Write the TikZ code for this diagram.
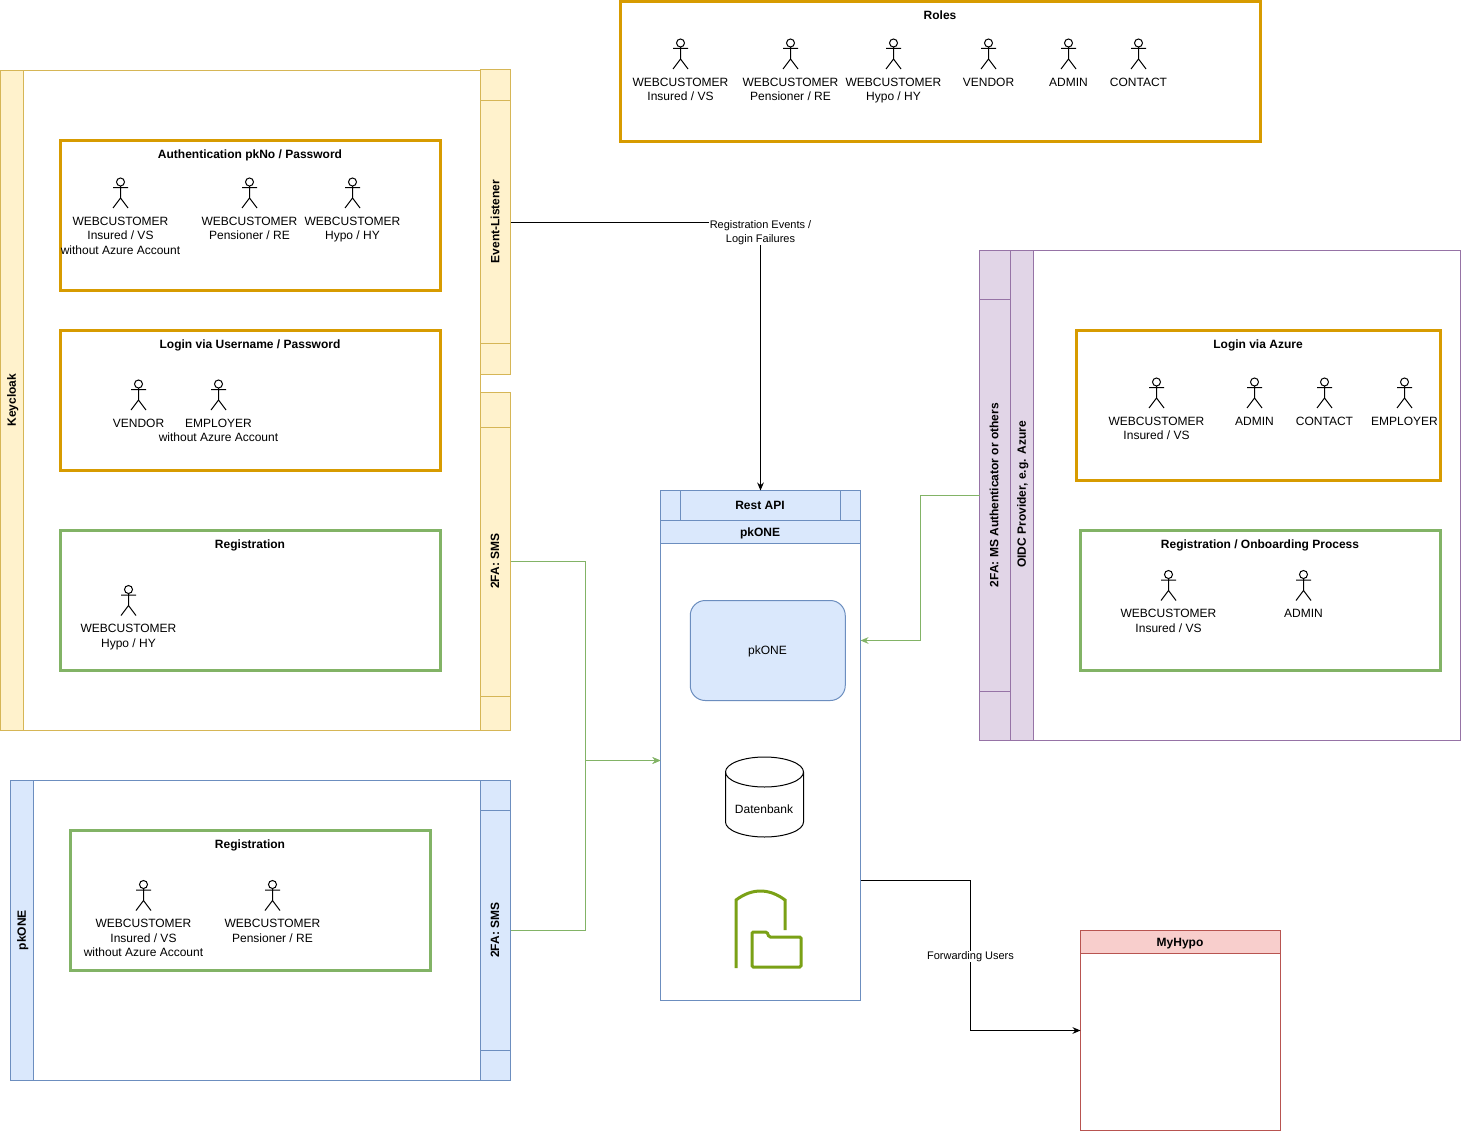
\documentclass[tikz,border=0pt]{standalone}
\usepackage{fontspec}
\setmainfont{Liberation Sans}
\usetikzlibrary{arrows.meta}
\definecolor{yfill}{HTML}{FFF2CC}\definecolor{yline}{HTML}{D6B656}
\definecolor{bfill}{HTML}{DAE8FC}\definecolor{bline}{HTML}{6C8EBF}
\definecolor{pfill}{HTML}{E1D5E7}\definecolor{pline}{HTML}{9673A6}
\definecolor{rfill}{HTML}{F8CECC}\definecolor{rline}{HTML}{B85450}
\definecolor{orng}{HTML}{D79B00}\definecolor{grn}{HTML}{82B366}
\definecolor{icon}{HTML}{7AA116}
\tikzset{
  x=0.75pt,y=-0.75pt,
  every node/.style={inner sep=0pt,outer sep=0pt,font=\fontsize{9}{10.9}\selectfont},
  yel/.style={draw=yline,fill=yfill,line width=0.75pt},
  blu/.style={draw=bline,fill=bfill,line width=0.75pt},
  pur/.style={draw=pline,fill=pfill,line width=0.75pt},
  red/.style={draw=rline,fill=rfill,line width=0.75pt},
  ybody/.style={draw=yline,fill=white,line width=0.75pt},
  bbody/.style={draw=bline,fill=white,line width=0.75pt},
  pbody/.style={draw=pline,fill=white,line width=0.75pt},
  rbody/.style={draw=rline,fill=white,line width=0.75pt},
  ogroup/.style={draw=orng,line width=2.25pt},
  ggroup/.style={draw=grn,line width=2.25pt},
  ttl/.style={font=\fontsize{9}{10.9}\selectfont\bfseries,anchor=base},
  vttl/.style={font=\fontsize{9}{10.9}\selectfont\bfseries,rotate=90},
  actorlabel/.style={anchor=north,align=center},
  stick/.style={draw=black,line width=0.75pt},
  conblack/.style={draw=black,line width=0.75pt,-{Stealth[length=6pt,width=5pt]}},
  congreen/.style={draw=grn,line width=0.75pt,-{Stealth[length=6pt,width=5pt]}},
  edgelabel/.style={fill=white,align=center,font=\fontsize{8.25}{10.5}\selectfont,inner sep=0.5pt},
}
% [style]{name}{x1}{y1}{x2}{y2}
\newcommand\bx[6]{\node[#1,anchor=center,minimum width={(#5-#3)*0.75pt},minimum height={(#6-#4)*0.75pt}] (#2) at ({(#3+#5)/2},{(#4+#6)/2}) {};}
% {name}{cx}{top}{text}
\newcommand\actr[4]{%
  \node[minimum width=11.25pt,minimum height=22.5pt] (#1) at ({#2+0.5},{#3+15}) {};
  \begin{scope}[shift={(#1)}]
    \draw[stick,fill=white] (0,-11) circle (4);
    \draw[stick] (0,-7) -- (0,5) (-7.5,-5.5) -- (7.5,-5.5) (-7.5,15) -- (0,5) -- (7.5,15);
  \end{scope}
  \node[actorlabel] (#1-l) at ({#2+0.5},{#3+38}) {\rule{0pt}{7pt}#4};
}
\begin{document}
\begin{tikzpicture}
\useasboundingbox (0,0) rectangle (1461,1131);

% Keycloak
\bx{ybody}{kc}{0.5}{70.5}{480.5}{730.5}
\bx{yel}{kchead}{0.5}{70.5}{23.5}{730.5}
\node[vttl] (kct) at (12.8,400.2) {Keycloak};
\bx{yel}{ev}{480.5}{69.5}{510.5}{374.5}
\draw[yel] (480.5,100.5) -- (510.5,100.5) (480.5,343.5) -- (510.5,343.5);
\node[vttl] (evt) at (495,221.5) {Event-Listener};
\bx{yel}{sms}{480.5}{392.5}{510.5}{730.5}
\draw[yel] (480.5,427.5) -- (510.5,427.5) (480.5,696.5) -- (510.5,696.5);
\node[vttl] (smst) at (495,561) {2FA: SMS};

% pkONE lane
\bx{bbody}{pk}{10.5}{780.5}{480.5}{1080.5}
\bx{blu}{pkhead}{10.5}{780.5}{33.5}{1080.5}
\node[vttl] (pkt) at (22.8,930) {pkONE};
\bx{blu}{smsb}{480.5}{780.5}{510.5}{1080.5}
\draw[blu] (480.5,810.5) -- (510.5,810.5) (480.5,1050.5) -- (510.5,1050.5);
\node[vttl] (smsbt) at (495,930) {2FA: SMS};

% OIDC
\bx{pbody}{oidc}{979.5}{250.5}{1460.5}{740.5}
\bx{pur}{ms}{979.5}{250.5}{1010.5}{740.5}
\draw[pur] (979.5,299.5) -- (1010.5,299.5) (979.5,691.5) -- (1010.5,691.5);
\node[vttl] (mst) at (994,495) {2FA: MS Authenticator or others};
\bx{pur}{oidch}{1010.5}{250.5}{1033.5}{740.5}
\node[vttl] (oidct) at (1022.8,494.5) {OIDC Provider, e.g. Azure};

% Roles
\bx{ogroup}{roles}{620.5}{1.5}{1260.5}{141.5}
\node[ttl] (rolest) at (940,19.5) {Roles};
\actr{r1}{680}{39}{WEBCUSTOMER\\Insured / VS}
\actr{r2}{790}{39}{WEBCUSTOMER\\Pensioner / RE}
\actr{r3}{893}{39}{WEBCUSTOMER\\Hypo / HY}
\actr{r4}{988}{39}{VENDOR}
\actr{r5}{1068}{39}{ADMIN}
\actr{r6}{1138}{39}{CONTACT}

% Authentication
\bx{ogroup}{auth}{60.5}{140.5}{440.5}{290.5}
\node[ttl] (autht) at (250,158) {Authentication pkNo / Password};
\actr{a1}{120}{178}{WEBCUSTOMER\\Insured / VS\\without Azure Account}
\actr{a2}{249}{178}{WEBCUSTOMER\\Pensioner / RE}
\actr{a3}{352}{178}{WEBCUSTOMER\\Hypo / HY}

% Login
\bx{ogroup}{login}{60.5}{330.5}{440.5}{470.5}
\node[ttl] (logint) at (250,348) {Login via Username / Password};
\actr{l1}{138}{380}{VENDOR}
\actr{l2}{218}{380}{EMPLOYER\\without Azure Account}

% Registration
\bx{ggroup}{reg}{60.5}{530.5}{440.5}{670.5}
\node[ttl] (regt) at (250,548) {Registration};
\actr{g1}{128}{585.5}{WEBCUSTOMER\\Hypo / HY}

% Registration pkONE
\bx{ggroup}{regb}{70.5}{830.5}{430.5}{970.5}
\node[ttl] (regbt) at (250,848) {Registration};
\actr{h1}{143}{880.5}{WEBCUSTOMER\\Insured / VS\\without Azure Account}
\actr{h2}{272}{880.5}{WEBCUSTOMER\\Pensioner / RE}

% Login via Azure
\bx{ogroup}{azure}{1076.5}{330.5}{1440.5}{480.5}
\node[ttl] (azuret) at (1258,348) {Login via Azure};
\actr{z1}{1156}{378}{WEBCUSTOMER\\Insured / VS}
\actr{z2}{1254}{378}{ADMIN}
\actr{z3}{1324}{378}{CONTACT}
\actr{z4}{1404}{378}{EMPLOYER}

% Onboarding
\bx{ggroup}{onb}{1080.5}{530.5}{1440.5}{670.5}
\node[ttl] (onbt) at (1260,548) {Registration / Onboarding Process};
\actr{o1}{1168}{570.5}{WEBCUSTOMER\\Insured / VS}
\actr{o2}{1303}{570.5}{ADMIN}

% pkONE centre
\bx{bbody}{core}{660.5}{520.5}{860.5}{1000.5}
\bx{blu}{corehead}{660.5}{520.5}{860.5}{543.5}
\node[ttl] (coret) at (760,536) {pkONE};
\bx{blu}{rest}{660.5}{490.5}{860.5}{520.5}
\draw[blu] (680.5,490.5) -- (680.5,520.5) (840.5,490.5) -- (840.5,520.5);
\node[ttl] (restt) at (760,509) {Rest API};
\node[blu,rounded corners=11.25pt,minimum width=116.25pt,minimum height=75pt] (pkbox) at (767.75,650.5) {};
\node (pkboxt) at (767.5,651.3) {pkONE};

% Database
\draw[stick,fill=white] (725.5,772) -- (725.5,822) arc[start angle=180,end angle=0,x radius=39,y radius=15]
  -- (803.5,772) arc[start angle=0,end angle=-180,x radius=39,y radius=15] -- cycle;
\draw[stick] (725.5,772) arc[start angle=180,end angle=0,x radius=39,y radius=15];
\node (db) at (764,809) {Datenbank};

% Icon
\draw[draw=icon,line width=2.25pt] (736,968) -- (736,900) .. controls (752,888) and (769,888) .. (785,900) -- (785,930);
\draw[draw=icon,line width=2.25pt,rounded corners=1pt] (752,967) -- (752,932) -- (767,932) -- (769,937) -- (801,937) -- (801,967) -- cycle;

% MyHypo
\bx{rbody}{hypo}{1080.5}{930.5}{1280.5}{1130.5}
\bx{red}{hypoh}{1080.5}{930.5}{1280.5}{953.5}
\node[ttl] (hypot) at (1180,946) {MyHypo};

% Connectors
\coordinate (coreIn) at (core.east |- 0,640.5);
\coordinate (coreOut) at (core.east |- 0,880.5);
\coordinate (busA) at (585.5,561.5);
\coordinate (busB) at (585.5,930.5);
\coordinate (busC) at (585.5,760.5);
\coordinate (msA) at (920,495.5);
\coordinate (msB) at (920,640.5);
\coordinate (hyA) at (970.5,880.5);
\coordinate (hyB) at (970.5,1030.5);
\draw[conblack] (ev.east |- 0,222.5) -| (rest.north);
\draw[congreen] (sms.east) -- (busA) -- (busC) -- (core.west);
\draw[congreen] (smsb.east) -- (busB) -- (busC) -- (core.west);
\draw[congreen] (ms.west) -- (msA) -- (msB) -- (coreIn);
\draw[conblack] (coreOut) -- (hyA) -- (hyB) -- (hypo.west);
\node[edgelabel] (ela) at (760.5,232.5) {Registration Events /\\Login Failures};
\node[edgelabel] (elb) at (970.5,956.5) {Forwarding Users};
\end{tikzpicture}
\end{document}
